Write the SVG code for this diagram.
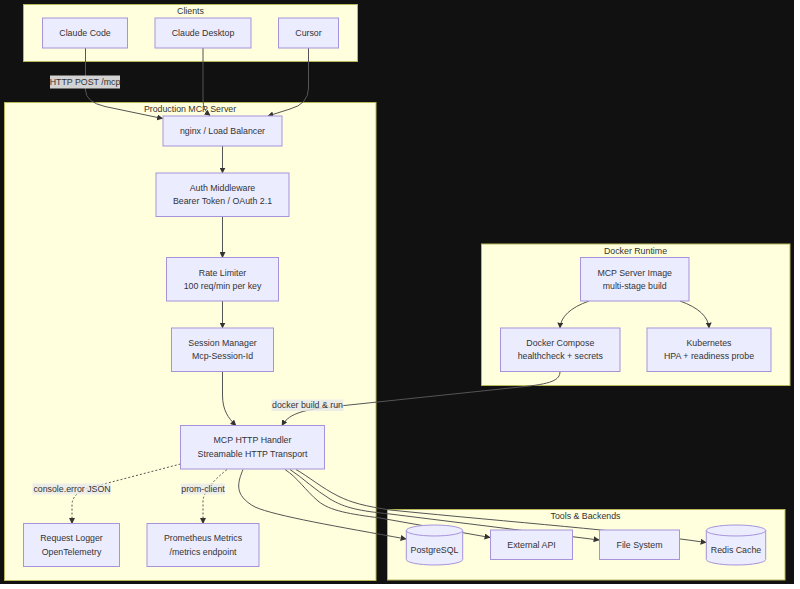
<svg xmlns="http://www.w3.org/2000/svg" width="800" height="589" viewBox="0 0 800 589">
<style>
text{font-family:"Liberation Sans",Arial,sans-serif;font-size:8.8px;fill:#333;text-anchor:middle;dominant-baseline:central}
.cluster{fill:#ffffde;stroke:#b8b85a;stroke-width:1}
.node{fill:#ececff;stroke:#a693dc;stroke-width:1}
.edge{fill:none;stroke:#555;stroke-width:1}
.dot{stroke-dasharray:2,2}
.lbl{fill:rgba(232,232,232,0.8)}
</style>
<defs>
<marker id="arr" viewBox="0 0 10 10" refX="9" refY="5" markerWidth="6" markerHeight="6" markerUnits="userSpaceOnUse" orient="auto">
<path d="M0,0 L10,5 L0,10 z" fill="#333"/>
</marker>
</defs>
<rect x="0" y="0" width="800" height="589" fill="#fff"/>
<rect x="0" y="0" width="794" height="584" fill="#111"/>

<g id="clusters">
<g id="cluster-clients"><rect class="cluster" x="23.5" y="4.5" width="334" height="57"/><text x="190.5" y="10.5">Clients</text></g>
<g id="cluster-server"><rect class="cluster" x="4.5" y="102.5" width="371.5" height="478"/><text x="190" y="109">Production MCP Server</text></g>
<g id="cluster-docker"><rect class="cluster" x="481.5" y="244" width="308.5" height="141.5"/><text x="635.5" y="250.5">Docker Runtime</text></g>
<g id="cluster-tools"><rect class="cluster" x="387.5" y="509.5" width="397.5" height="70.5"/><text x="585.5" y="516">Tools &amp; Backends</text></g>
</g>

<g id="connectors">
<path class="edge" marker-end="url(#arr)" d="M85.5,48 V90 Q85.5,102 105,106.5 L162.5,118.5"/>
<path class="edge" marker-end="url(#arr)" d="M203,48 V100 Q203,110 210,115.5"/>
<path class="edge" marker-end="url(#arr)" d="M308.5,48 V88 Q308.5,104 290,109 L268,116"/>
<path class="edge" marker-end="url(#arr)" d="M222.5,146 V173"/>
<path class="edge" marker-end="url(#arr)" d="M222.5,216.5 V257.5"/>
<path class="edge" marker-end="url(#arr)" d="M222.5,301 V328"/>
<path class="edge" marker-end="url(#arr)" d="M222.5,371.5 V395 C222.5,410 228,418 236,425.5"/>
<path class="edge" marker-end="url(#arr)" d="M560,371.5 C560,380 552,384 520,387 L330,407 C300,410 288,415 282,425.5"/>
<path class="edge" marker-end="url(#arr)" d="M589,301 Q561,311 560,328"/>
<path class="edge" marker-end="url(#arr)" d="M680,301 Q708,311 709,328"/>
<path class="edge dot" marker-end="url(#arr)" d="M180.5,464 L100,485 Q72,490 72,505 V523.5"/>
<path class="edge dot" marker-end="url(#arr)" d="M227,469.5 Q205,487 203,500 V523.5"/>
<path class="edge" marker-end="url(#arr)" d="M243,469.5 C238,482 233,495 255,507 C275,516 340,527 406,539"/>
<path class="edge" marker-end="url(#arr)" d="M285,469.5 C298,478 305,490 318,501 C330,511 350,514 380,518 L490,537.5"/>
<path class="edge" marker-end="url(#arr)" d="M290,469.5 C303,478 315,490 330,499 C345,508 360,511 390,514 L599,540"/>
<path class="edge" marker-end="url(#arr)" d="M296,469.5 C309,477 322,488 338,496 C352,503 365,506 390,510 C520,523 620,530 706,542.5"/>
<g id="edge-labels">
<rect x="50" y="75.5" width="70" height="13" fill="#d3d3d3"/><text x="85" y="82">HTTP POST /mcp</text>
<rect class="lbl" x="271.5" y="399.5" width="72" height="11.5"/><text x="307.5" y="405.3">docker build &amp; run</text>
<rect class="lbl" x="32.5" y="483.5" width="78.5" height="11"/><text x="72" y="489">console.error JSON</text>
<rect class="lbl" x="181" y="483.5" width="44" height="11"/><text x="203" y="489">prom-client</text>
</g>
</g>

<g id="claude-code"><rect class="node" x="42.5" y="18" width="85" height="30"/><text x="85" y="33">Claude Code</text></g>
<g id="claude-desktop"><rect class="node" x="155" y="18" width="96" height="30"/><text x="203" y="33">Claude Desktop</text></g>
<g id="cursor"><rect class="node" x="278.5" y="18" width="60" height="30"/><text x="308.5" y="33">Cursor</text></g>

<g id="nginx"><rect class="node" x="163" y="116" width="119" height="30"/><text x="222.5" y="131">nginx / Load Balancer</text></g>
<g id="auth"><rect class="node" x="156" y="173" width="133" height="43.5"/><text x="222.5" y="188">Auth Middleware</text><text x="222.5" y="201.3">Bearer Token / OAuth 2.1</text></g>
<g id="rate"><rect class="node" x="166.5" y="257.5" width="112" height="43.5"/><text x="222.5" y="272.5">Rate Limiter</text><text x="222.5" y="285.8">100 req/min per key</text></g>
<g id="session"><rect class="node" x="171.5" y="328" width="102" height="43.5"/><text x="222.5" y="343">Session Manager</text><text x="222.5" y="356.3">Mcp-Session-Id</text></g>
<g id="handler"><rect class="node" x="180.5" y="425.5" width="144" height="43.5"/><text x="252.5" y="440.3">MCP HTTP Handler</text><text x="252.5" y="453.6">Streamable HTTP Transport</text></g>
<g id="logger"><rect class="node" x="23.5" y="523.5" width="96" height="43"/><text x="71.5" y="538">Request Logger</text><text x="71.5" y="551.5">OpenTelemetry</text></g>
<g id="prometheus"><rect class="node" x="147" y="523.5" width="112" height="43"/><text x="203" y="538">Prometheus Metrics</text><text x="203" y="551.5">/metrics endpoint</text></g>

<g id="image"><rect class="node" x="580.5" y="257.5" width="108.5" height="43.5"/><text x="634.7" y="272.7">MCP Server Image</text><text x="634.7" y="285.8">multi-stage build</text></g>
<g id="compose"><rect class="node" x="500.5" y="328" width="119.5" height="43.5"/><text x="560.3" y="343">Docker Compose</text><text x="560.3" y="356.3">healthcheck + secrets</text></g>
<g id="kubernetes"><rect class="node" x="647" y="328" width="124" height="43.5"/><text x="709" y="343">Kubernetes</text><text x="709" y="356.3">HPA + readiness probe</text></g>

<g id="postgres"><path class="node" d="M406.3,530.5 a28.2,5.5 0 0,0 56.4,0 a28.2,5.5 0 0,0 -56.4,0 l0,29 a28.2,5.5 0 0,0 56.4,0 l0,-29"/><text x="434.5" y="550.3">PostgreSQL</text></g>
<g id="external-api"><rect class="node" x="490.5" y="530" width="82" height="29.5"/><text x="531.5" y="545">External API</text></g>
<g id="file-system"><rect class="node" x="599.5" y="530" width="80" height="29.5"/><text x="639.5" y="545">File System</text></g>
<g id="redis"><path class="node" d="M706.3,530.5 a29.7,5.5 0 0,0 59.4,0 a29.7,5.5 0 0,0 -59.4,0 l0,29 a29.7,5.5 0 0,0 59.4,0 l0,-29"/><text x="736" y="550.3">Redis Cache</text></g>
</svg>
